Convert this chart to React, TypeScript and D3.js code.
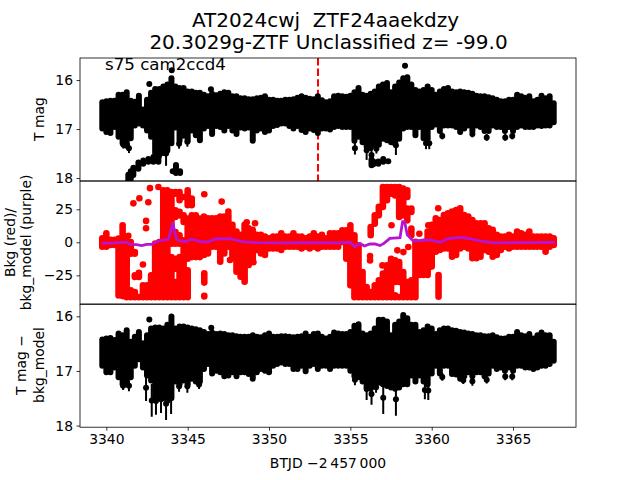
import React, { useEffect, useRef } from 'react';
import * as d3 from 'd3';

// sample times of the dense light curve (BTJD - 2457000)
const times = [
  3339.75, 3340, 3340.25, 3340.5, 3340.75, 3341, 3341.25, 3341.5, 3341.75, 3342, 3342.25, 3342.5, 3342.75, 3343,
  3343.25, 3343.5, 3343.75, 3344, 3344.25, 3344.5, 3344.75, 3345, 3345.25, 3345.5, 3345.75, 3346, 3346.25, 3346.5,
  3346.75, 3347, 3347.25, 3347.5, 3347.75, 3348, 3348.25, 3348.5, 3348.75, 3349, 3349.25, 3349.5, 3349.75, 3350,
  3350.25, 3350.5, 3350.75, 3351, 3351.25, 3351.5, 3351.75, 3352, 3352.25, 3352.5, 3352.75, 3353, 3353.25, 3353.5,
  3353.75, 3354, 3354.25, 3354.5, 3354.75, 3355, 3355.25, 3355.5, 3355.75, 3356, 3356.25, 3356.5, 3356.75, 3357,
  3357.25, 3357.5, 3357.75, 3358, 3358.25, 3358.5, 3358.75, 3359, 3359.25, 3359.5, 3359.75, 3360, 3360.25, 3360.5,
  3360.75, 3361, 3361.25, 3361.5, 3361.75, 3362, 3362.25, 3362.5, 3362.75, 3363, 3363.25, 3363.5, 3363.75, 3364,
  3364.25, 3364.5, 3364.75, 3365, 3365.25, 3365.5, 3365.75, 3366, 3366.25, 3366.5, 3366.75, 3367, 3367.25, 3367.5,
];

// T mag, upper and lower edge of the scatter at each sample
const magTop = [
  16.39, 16.37, 16.36, 16.36, 16.24, 16.24, 16.19, 16.36, 16.38, 16.26, 16.54, 16.34, 16.2, 16.12,
  16.12, 16.07, 16.03, 15.9, 16.07, 16.1, 16.1, 16.17, 16.17, 16.2, 16.2, 16.24, 16.27, 16.22,
  16.25, 16.22, 16.19, 16.2, 16.27, 16.27, 16.31, 16.31, 16.33, 16.33, 16.31, 16.3, 16.27, 16.34,
  16.34, 16.36, 16.36, 16.34, 16.34, 16.33, 16.3, 16.27, 16.3, 16.32, 16.33, 16.27, 16.35, 16.39,
  16.37, 16.27, 16.26, 16.27, 16.28, 16.26, 16.19, 16.1, 16.24, 16.26, 16.22, 16.17, 16.07, 16.03,
  16.0, 16.19, 16.07, 15.99, 15.9, 15.88, 16.03, 16.14, 16.17, 16.14, 16.07, 16.14, 16.24, 16.17,
  16.12, 16.1, 16.17, 16.19, 16.17, 16.19, 16.2, 16.22, 16.26, 16.27, 16.27, 16.29, 16.31, 16.34,
  16.37, 16.37, 16.34, 16.34, 16.24, 16.27, 16.3, 16.27, 16.37, 16.34, 16.26, 16.31, 16.27, 16.41,
];
const magBottom = [
  17.05, 17.12, 17.14, 17.02, 17.22, 17.35, 17.4, 17.25, 16.99, 16.95, 16.99, 17.09, 17.22, 17.55,
  17.6, 17.55, 17.5, 17.35, 17.03, 17.3, 17.2, 17.3, 17.09, 17.19, 17.29, 17.05, 17.0, 17.16,
  17.0, 17.02, 17.09, 17.0, 17.09, 17.16, 17.03, 17.05, 17.03, 17.3, 17.09, 17.05, 17.12, 17.09,
  17.0, 16.98, 16.95, 16.95, 17.0, 17.05, 17.0, 17.08, 17.12, 17.05, 17.08, 17.14, 17.05, 17.05,
  17.07, 17.02, 17.0, 17.02, 17.02, 17.02, 17.3, 17.22, 17.33, 17.42, 17.45, 17.38, 17.38, 17.26,
  17.29, 17.33, 17.36, 17.26, 17.05, 17.02, 17.02, 17.19, 17.02, 17.25, 17.25, 17.02, 16.97, 17.1,
  16.99, 16.99, 16.99, 17.02, 17.12, 17.05, 16.99, 17.1, 16.99, 17.02, 17.1, 17.1, 16.99, 17.02,
  17.02, 17.1, 17.02, 17.1, 17.02, 16.99, 17.02, 17.02, 17.02, 16.99, 17.0, 16.99, 16.99, 16.92,
];

// the arcs of points near the bottom of the top panel
const arcTimes = [3341.35, 3341.5, 3341.66, 3341.97, 3342.27, 3342.58, 3342.89, 3343.2, 3344.08, 3344.28, 3344.53, 3356.3, 3356.41, 3356.72, 3357.02, 3357.33];
const arcTop = [17.87, 17.8, 17.73, 17.62, 17.58, 17.55, 17.51, 17.53, 17.8, 17.67, 17.8, 17.56, 17.6, 17.6, 17.55, 17.6];
const arcBottom = [18.12, 18.08, 18.0, 17.87, 17.77, 17.73, 17.73, 17.73, 17.92, 17.96, 17.96, 17.8, 17.78, 17.77, 17.73, 17.71];

// single points with error bars: T mag
const magPtTimes = [3342.64, 3346.43, 3344.02, 3358.36, 3343.67, 3341.39, 3341.05, 3344.47, 3344.98, 3355.28, 3356, 3356.3, 3356.6, 3357.8, 3359.65, 3359.85, 3360.65, 3362.5, 3363.38, 3364.52, 3364.95];
const magPtValues = [16.08, 16.19, 15.8, 15.71, 17.5, 17.39, 17.32, 17.3, 17.26, 17.39, 17.43, 17.53, 17.4, 17.33, 17.29, 17.29, 17.14, 17.1, 17.17, 17.17, 17.14];
const magPtErrors = [0.04, 0.04, 0.04, 0.04, 0.25, 0.1, 0.08, 0.1, 0.1, 0.13, 0.2, 0.15, 0.1, 0.2, 0.12, 0.12, 0.07, 0.07, 0.07, 0.07, 0.07];

// background flux, upper and lower edge at each sample
const bkgTop = [
  5.6, 9.3, 4.3, 4.3, 5.3, 15.4, 6.5, 2.7, -4.8, -20.5, -30, -30, -22.5, 1.5,
  2.7, 41.9, 41.9, 40.6, 40.6, 40.6, 36.8, 41.9, 35.6, 23, 20.4, 22, 20.7, 20.7,
  20.7, 22, 22, 23.2, 15.7, 10.6, 8.1, 15.7, 13.1, 11.9, 8.1, 8.1, 6.8, 5.6,
  6.8, 6.8, 9.3, 6.8, 6.8, 9.3, 6.8, 6.8, 5.6, 6.8, 9.3, 6.8, 8.1, 5.6,
  9.3, 9.3, 9.3, 11.6, 11.6, 15.4, 7.8, 0.2, -20, -31.3, -35.1, -30, -26.3, -21.2,
  -14.9, -9.9, -11.1, -12.4, -20, -27.5, -26.3, 2.8, 1.5, 2.8, 10.6, 15.7, 20.7, 19.4,
  23.2, 24.5, 25.8, 27, 28.3, 23.2, 22, 19.4, 16.9, 16.9, 16.9, 13.1, 11.9, 8.1,
  6.8, 6.8, 8.1, 6.8, 10.6, 9.3, 8.1, 10.6, 6.8, 6.8, 6.8, 6.8, 6.8, 5.6,
];
const bkgBottom = [
  -5.8, -5.8, -4.5, -4.5, -42.7, -43.2, -44, -11.1, -11.1, -28.8, -44, -44, -44, -44,
  -44, -44, -44, -3.6, 34.3, 29.3, 31.8, 25.5, 25.5, -13.7, -13.7, -12.1, -10.9, -5.8,
  -5.8, -17.2, -10.9, -5.8, -14.6, -24.7, -28.5, -32.3, -19.7, -15.9, -8.3, -10.9, -12.1, -7.1,
  -7.1, -7.1, -8.3, -5.8, -5.8, -5.8, -5.8, -7.1, -5.8, -7.1, -5.8, -7.1, -5.8, -5.8,
  -5.8, -5.8, -5.8, -2.3, -14.9, -35.1, -44, -44, -44, -44, -44, -44, -44, -44,
  -44, -44, -32.6, -32.6, -44, -44, -44, -44, -27.3, -27.3, -27.3, -20.9, -9.6, -8.3,
  -7.1, -7.1, -13.4, -12.1, -7.1, -5.8, -7.1, -14.6, -14.6, -13.4, -8.3, -9.6, -13.4, -12.1,
  -8.3, -5.8, -7.1, -5.8, -5.8, -5.8, -5.8, -5.8, -5.8, -5.8, -5.8, -9.6, -5.8, -4.5,
];

// extra background clumps at times that have more than one run of points
const clumpTimes = [
  3341.5, 3341.75, 3341.75, 3342, 3342.25, 3344, 3344.25, 3344.25, 3344.25, 3344.25, 3344.5, 3344.5, 3344.5,
  3344.75, 3344.75, 3345, 3345, 3345.25, 3357.75, 3358,
  3356.25, 3356.5, 3356.75, 3357, 3357.25, 3357.5, 3357.75, 3358, 3358.25, 3358.5, 3358.5, 3358.75, 3358.75,
  3346.02, 3346.02, 3360.42,
];
const clumpTop = [
  -33.9, -22.5, -35.1, -38.9, -14.9, -8.6, 26.7, 10.3, -9.9, -27.5, 25.5, 7.8, -8.6,
  23, 4, 20.4, -18.7, 23, -37.7, -38.9,
  14.1, 23, 29.3, 44.4, 44.4, 44.4, 44.4, 44.4, 43.2, 41.9, 28, 28, 12.9,
  -21, -38, -22.2,
];
const clumpBottom = [
  -44, -28.8, -44, -44, -18.7, -44, 16.7, -3.6, -22.5, -44, 17.9, -3.6, -44,
  12.9, -44, -14.9, -44, -13.7, -44, -44,
  2.8, 11.6, 17.9, 24.2, 29.3, 34.3, 33, 16.7, 17.9, 31.8, 14.1, 20.4, 2.8,
  -33, -43.5, -43.7,
];

// isolated background points
const bkgPtTimes = [
  3341.66, 3342.03, 3342.58, 3342.44, 3342.44, 3346.02, 3347.09, 3347.5, 3348.63, 3349.14, 3342.68, 3343.2, 3341.35,
  3347.6, 3349.04, 3360.4, 3357.53, 3359.24, 3356.21, 3356.21, 3356.97, 3357.89, 3358.26, 3358.56, 3359.79,
];
const bkgPtValues = [
  29.5, 33.3, 30.3, 16.2, 10.6, 36.4, 30.8, 23.2, 15.2, 14.4, 41, 41.9, 5,
  -13.4, -15.1, 25.8, 12.9, 6.5, -10.4, -13.7, -17.5, -6.1, -7.4, -3.6, 12.9,
];

// background model (purple line)
const modelTimes = [
  3339.71, 3340.53, 3340.94, 3341.29, 3341.45, 3341.86, 3342.17, 3342.48, 3342.79, 3343.2, 3343.81, 3343.95, 3344.08, 3344.2,
  3344.32, 3344.53, 3344.84, 3345.25, 3345.86, 3346.27, 3346.68, 3347.6, 3348.42, 3349.24, 3350.68, 3352.73, 3354.36, 3354.97,
  3355.28, 3355.59, 3355.86, 3356.2, 3356.51, 3356.82, 3357.06, 3357.43, 3358.05, 3358.21, 3358.33, 3358.5, 3358.87, 3359.89,
  3360.51, 3361.02, 3361.74, 3362.25, 3362.97, 3363.79, 3365.43, 3367.58,
];
const modelValues = [
  -0.8, -0.5, 0, 0, -1.5, -1.8, -2.5, -1.5, -1.5, 1, 2.3, 8.1, 15.2, 8.1,
  2.3, 1, 0.5, 2.3, 0.3, 0.3, 2.5, 2.8, 0.3, -0.2, -0.5, -0.2, -0.5, 0,
  -3.3, -0.8, -2.8, -1.3, -1.3, -2.5, -0.8, 3, 3.5, 15.7, 15.7, 5.6, 1, 1.8,
  0, 2.8, 3.8, 3, 1, -0.5, -0.2, 0,
];

// T mag minus background model
const corrTop = [
  16.37, 16.35, 16.34, 16.38, 16.26, 16.29, 16.2, 16.41, 16.32, 16.23, 16.44, 16.29, 16.17, 16.15,
  16.15, 16.17, 16.1, 15.95, 16.17, 16.13, 16.13, 16.15, 16.17, 16.18, 16.2, 16.23, 16.27, 16.24,
  16.27, 16.26, 16.27, 16.29, 16.29, 16.31, 16.32, 16.32, 16.32, 16.29, 16.32, 16.33, 16.29, 16.26,
  16.32, 16.32, 16.31, 16.31, 16.32, 16.33, 16.32, 16.31, 16.26, 16.32, 16.27, 16.26, 16.32, 16.35,
  16.32, 16.24, 16.26, 16.27, 16.27, 16.23, 16.12, 16.09, 16.26, 16.29, 16.26, 16.17, 16.01, 16.01,
  16.04, 16.29, 16.1, 16.04, 15.92, 15.98, 16.1, 16.1, 16.23, 16.2, 16.13, 16.17, 16.27, 16.2,
  16.17, 16.17, 16.2, 16.21, 16.23, 16.24, 16.26, 16.27, 16.29, 16.29, 16.31, 16.31, 16.29, 16.33,
  16.35, 16.35, 16.32, 16.32, 16.23, 16.29, 16.31, 16.27, 16.35, 16.29, 16.24, 16.29, 16.29, 16.41,
];
const corrBottom = [
  16.96, 17.08, 17.08, 16.99, 17.17, 17.3, 17.3, 17.17, 16.96, 16.84, 16.99, 17.14, 17.23, 17.55,
  17.55, 17.55, 17.6, 17.55, 17.25, 17.3, 17.23, 17.3, 17.2, 17.25, 17.25, 17.02, 16.93, 17.1,
  17.05, 17.08, 17.15, 17.14, 17.08, 17.15, 17.08, 17.08, 17.11, 17.2, 17.08, 17.02, 17.05, 17.08,
  16.96, 16.93, 16.9, 16.93, 16.93, 17.02, 17.02, 16.96, 17.06, 16.96, 16.93, 17.02, 16.96, 16.96,
  17.02, 16.96, 16.96, 16.96, 16.96, 17.05, 17.15, 17.17, 17.25, 17.36, 17.38, 17.34, 17.27, 17.3,
  17.33, 17.36, 17.38, 17.36, 17.3, 17.3, 17.14, 17.25, 17.14, 17.25, 17.3, 17.1, 16.96, 17.1,
  16.96, 16.96, 17.11, 17.12, 17.2, 17.15, 17.08, 17.15, 17.08, 17.08, 17.15, 17.1, 16.96, 17.02,
  16.99, 17.05, 16.99, 17.05, 16.96, 16.96, 16.99, 16.99, 17.02, 16.99, 16.96, 16.96, 16.93, 16.87,
];

// single points with error bars: corrected mag
const corrPtTimes = [
  3342.64, 3346.45, 3342.44, 3342.79, 3343.05, 3343.36, 3343.67, 3343.98, 3341.39, 3341.03, 3344.47, 3344.98, 3345.7,
  3355.28, 3356, 3356.3, 3356.58, 3357.02, 3357.8, 3359.58, 3359.79, 3360.65, 3361.94, 3362.5, 3363.38, 3364.52, 3364.95,
];
const corrPtValues = [
  16.06, 16.21, 17.31, 17.54, 17.55, 17.52, 17.6, 17.49, 17.27, 17.27, 17.28, 17.28, 17.25,
  17.16, 17.33, 17.42, 17.3, 17.49, 17.52, 17.35, 17.36, 17.11, 17.17, 17.19, 17.16, 17.1, 17.1,
];
const corrPtErrors = [
  0.04, 0.04, 0.24, 0.3, 0.25, 0.25, 0.3, 0.3, 0.1, 0.08, 0.1, 0.12, 0.08,
  0.1, 0.2, 0.2, 0.1, 0.3, 0.3, 0.17, 0.17, 0.07, 0.07, 0.08, 0.07, 0.07, 0.07,
];

const xTicks = [3340, 3345, 3350, 3355, 3360, 3365];
const magTicks = [16, 17, 18];
const bkgTicks = [-25, 0, 25];
const eventTime = 3353.01;

const width = 640;
const height = 480;
const left = 80;
const right = 576;
const font = '"DejaVu Sans", sans-serif';

const App = () => {
  const svgRef = useRef<SVGSVGElement>(null);

  useEffect(() => {
    const svg = d3.select(svgRef.current);
    svg.selectAll('*').remove();

    const x = d3.scaleLinear().domain([3338.38, 3368.87]).range([left, right]);
    const yMag = d3.scaleLinear().domain([15.55, 18.06]).range([58, 181]);
    const yBkg = d3.scaleLinear().domain([46.4, -46.7]).range([181, 304]);
    const yCorr = d3.scaleLinear().domain([15.78, 18.03]).range([304.3, 427.2]);

    const addPanel = (id: string, y: any, ticks: number[], top: number, bottom: number) => {
      svg.append('clipPath').attr('id', id).append('rect')
        .attr('x', left).attr('y', top).attr('width', right - left).attr('height', bottom - top);
      const g = svg.append('g').attr('clip-path', `url(#${id})`);
      const yAxis = d3.axisLeft(y).tickValues(ticks).tickSize(3.5).tickPadding(3.5).tickFormat(d3.format('d'));
      const axisG = svg.append('g').attr('transform', `translate(${left},0)`).call(yAxis as any);
      axisG.select('.domain').remove();
      axisG.selectAll('line').attr('stroke-width', 0.8);
      axisG.selectAll('text').attr('font-family', font).attr('font-size', 13.9).text((d: any) => String(d).replace('-', '\u2212'));
      return g;
    };

    // thick bars standing in for the overlapping markers and error bars
    const addBand = (g: any, y: any, ts: number[], tops: number[], bottoms: number[], color: string, w: number) => {
      g.append('g').selectAll('line').data(ts).join('line')
        .attr('x1', (d: number) => x(d)).attr('x2', (d: number) => x(d))
        .attr('y1', (_: number, i: number) => Math.min(y(tops[i]) + w / 2, (y(tops[i]) + y(bottoms[i])) / 2))
        .attr('y2', (_: number, i: number) => Math.max(y(bottoms[i]) - w / 2, (y(tops[i]) + y(bottoms[i])) / 2))
        .attr('stroke', color).attr('stroke-width', w).attr('stroke-linecap', 'round');
    };

    const addPoints = (g: any, y: any, ts: number[], vals: number[], errs: number[]) => {
      g.append('g').selectAll('line').data(ts).join('line')
        .attr('x1', (d: number) => x(d)).attr('x2', (d: number) => x(d))
        .attr('y1', (_: number, i: number) => y(vals[i] - errs[i]))
        .attr('y2', (_: number, i: number) => y(vals[i] + errs[i]))
        .attr('stroke', 'black').attr('stroke-width', 2);
      g.append('g').selectAll('circle').data(ts).join('circle')
        .attr('cx', (d: number) => x(d)).attr('cy', (_: number, i: number) => y(vals[i]))
        .attr('r', 3).attr('fill', 'black');
    };

    /* top panel */
    const g1 = addPanel('clip-mag', yMag, magTicks, 58, 181);
    g1.append('line')
      .attr('x1', x(eventTime)).attr('x2', x(eventTime))
      .attr('y1', 58).attr('y2', 181)
      .attr('stroke', 'red').attr('stroke-width', 2).attr('stroke-dasharray', '7.4,3.2');
    addBand(g1, yMag, times, magTop, magBottom, 'black', 6);
    addBand(g1, yMag, arcTimes, arcTop, arcBottom, 'black', 6);
    addPoints(g1, yMag, magPtTimes, magPtValues, magPtErrors);

    /* background panel */
    const g2 = addPanel('clip-bkg', yBkg, bkgTicks, 181, 304);
    addBand(g2, yBkg, times, bkgTop, bkgBottom, 'red', 6.6);
    addBand(g2, yBkg, clumpTimes, clumpTop, clumpBottom, 'red', 6.6);
    g2.append('g').selectAll('circle').data(bkgPtTimes).join('circle')
      .attr('cx', (d: number) => x(d)).attr('cy', (_: number, i: number) => yBkg(bkgPtValues[i]))
      .attr('r', 3.3).attr('fill', 'red');
    const modelLine = d3.line<number>()
      .x(d => x(d))
      .y((_, i) => yBkg(modelValues[i]));
    g2.append('path').attr('d', modelLine(modelTimes)).attr('fill', 'none')
      .attr('stroke', '#b614d2').attr('stroke-width', 2.8);

    /* corrected panel */
    const g3 = addPanel('clip-corr', yCorr, magTicks, 304.3, 427.2);
    addBand(g3, yCorr, times, corrTop, corrBottom, 'black', 6);
    addPoints(g3, yCorr, corrPtTimes, corrPtValues, corrPtErrors);

    const xAxis = d3.axisBottom(x).tickValues(xTicks).tickSize(3.5).tickPadding(3.5).tickFormat(d3.format('d'));
    const xG = svg.append('g').attr('transform', 'translate(0,427.2)').call(xAxis as any);
    xG.select('.domain').remove();
    xG.selectAll('line').attr('stroke-width', 0.8);
    xG.selectAll('text').attr('font-family', font).attr('font-size', 13.9);

    // spines on top of the marks
    [[58, 181], [181, 304], [304.3, 427.2]].forEach(([a, b]) => {
      svg.append('rect').attr('x', left).attr('y', a).attr('width', right - left).attr('height', b - a)
        .attr('fill', 'none').attr('stroke', 'black').attr('stroke-width', 0.8);
    });

    const addText = (s: string, tx: number, ty: number, size: number, rotate = false, anchor = 'middle') => {
      svg.append('text').text(s).attr('text-anchor', anchor).attr('font-family', font).attr('font-size', size)
        .attr('transform', rotate ? `translate(${tx},${ty}) rotate(-90)` : `translate(${tx},${ty})`)
        .style('white-space', 'pre');
    };
    addText('AT2024cwj  ZTF24aaekdzy', 325.5, 26.7, 20);
    addText('20.3029g-ZTF Unclassified z= -99.0', 328.5, 49, 20);
    addText('s75 cam2ccd4', 105, 70, 16.67, false, 'start');
    addText('T mag', 44, 119, 13.9, true);
    addText('Bkg (red)/', 14.5, 242.5, 13.9, true);
    addText('bkg_model (purple)', 30.5, 242.5, 13.9, true);
    addText('T mag \u2212', 26, 365, 13.9, true);
    addText('bkg_model', 44, 365, 13.9, true);
    addText('BTJD \u22122\u2009457\u2009000', 328, 468, 13.9);
  }, []);

  return (
    <svg
      ref={svgRef}
      width={width}
      height={height}
      style={{ position: 'absolute', left: 0, top: 0, background: 'white' }}
    />
  );
};

export default App;
